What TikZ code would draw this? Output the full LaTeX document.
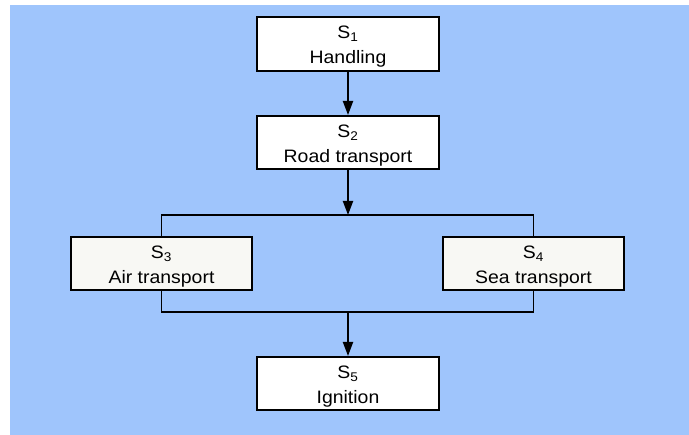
\documentclass[tikz,border=0pt]{standalone}
\usepackage{fontspec}
\setmainfont[FakeStretch=1.08]{Liberation Sans}
\usetikzlibrary{arrows.meta}
\definecolor{bgblue}{RGB}{159,197,252}
\definecolor{offwhite}{RGB}{248,248,244}
\newcommand{\toprl}{\rule{0pt}{20pt}}
\newcommand{\botrl}{\rule[-5pt]{0pt}{5pt}}
\tikzset{
  stepbox/.style={draw=black, line width=2pt, fill=white, minimum width=182pt, minimum height=54pt,
    inner sep=0pt, align=center, font=\fontsize{18}{25}\selectfont},
  flow/.style={line width=2pt, -{Triangle[length=14pt,width=10pt]}},
  link/.style={line width=1.8pt}
}
\begin{document}
\begin{tikzpicture}[x=1pt,y=-1pt]
\useasboundingbox (0,0) rectangle (689,435);
\fill[bgblue] (10,5) rectangle (689,435);
\node[stepbox] (s1) at (348,44) {\toprl S\textsubscript{1}\\Handling\botrl};
\node[stepbox, minimum height=53pt] (s2) at (348,142.5) {\toprl S\textsubscript{2}\\Road transport\botrl};
\node[stepbox, fill=offwhite, minimum width=181pt, minimum height=53pt] (s3) at (161.5,263.5) {\toprl S\textsubscript{3}\\Air transport\botrl};
\node[stepbox, fill=offwhite, minimum width=181pt, minimum height=53pt] (s4) at (533.5,263.5) {\toprl S\textsubscript{4}\\Sea transport\botrl};
\node[stepbox, minimum height=53pt] (s5) at (348,383.5) {\toprl S\textsubscript{5}\\Ignition\botrl};
\coordinate (bj) at (348,215);
\coordinate (mj) at (348,312);
\draw[flow] (s1.south) -- (s2.north);
\draw[link] (s3.north) |- (bj) -| (s4.north);
\draw[flow] (s2.south) -- (bj);
\draw[link] (s3.south) |- (mj) -| (s4.south);
\draw[flow] (mj) -- (s5.north);
\end{tikzpicture}
\end{document}
